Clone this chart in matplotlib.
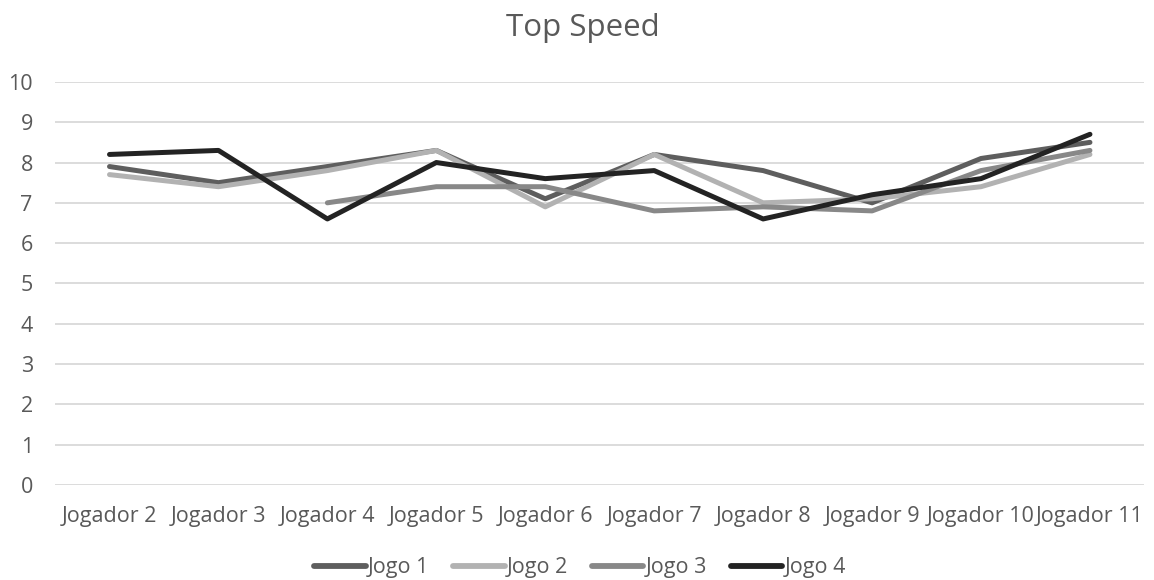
import numpy as np
import matplotlib.pyplot as plt

plt.rcParams['font.family'] = ['Open Sans', 'DejaVu Sans']

# jogadores no eixo x
jogadores = ['Jogador 2', 'Jogador 3', 'Jogador 4', 'Jogador 5', 'Jogador 6',
             'Jogador 7', 'Jogador 8', 'Jogador 9', 'Jogador 10', 'Jogador 11']

# velocidade maxima por jogo
jogo1 = [7.9, 7.5, 7.9, 8.3, 7.1, 8.2, 7.8, 7.0, 8.1, 8.5]
jogo2 = [7.7, 7.4, 7.8, 8.3, 6.9, 8.2, 7.0, 7.1, 7.4, 8.2]
jogo3 = [np.nan, np.nan, 7.0, 7.4, 7.4, 6.8, 6.9, 6.8, 7.8, 8.3]
jogo4 = [8.2, 8.3, 6.6, 8.0, 7.6, 7.8, 6.6, 7.2, 7.6, 8.7]

series = [('Jogo 1', jogo1, '#5e5e5e'),
          ('Jogo 2', jogo2, '#b2b2b2'),
          ('Jogo 3', jogo3, '#888888'),
          ('Jogo 4', jogo4, '#232323')]

fig = plt.figure(figsize=(11.54, 5.8), dpi=100)
ax = fig.add_axes([0.0477, 0.1638, 0.944, 0.695])

x = np.arange(len(jogadores))
for nome, vals, cor in series:
    ax.plot(x, vals, color=cor, linewidth=3.6, label=nome, solid_capstyle='round')

ax.set_xlim(-0.5, len(jogadores) - 0.5)
ax.set_ylim(0, 10)
ax.set_yticks(range(0, 11))
ax.set_xticks(x)
ax.set_xticklabels(jogadores)
ax.grid(axis='y', color='#d9d9d9', linewidth=1.3)
ax.set_axisbelow(True)
for s in ax.spines.values():
    s.set_visible(False)
ax.tick_params(axis='both', length=0, labelsize=15.5, colors='#595959')
ax.tick_params(axis='y', pad=16)
ax.tick_params(axis='x', pad=15)

fig.text(0.505, 0.952, 'Top Speed', ha='center', va='center', fontsize=22.5, color='#595959')

leg = fig.legend(loc='center', bbox_to_anchor=(0.5026, 1 - 568 / 580), ncol=4, frameon=False,
                 fontsize=15.5, labelcolor='#595959', handlelength=2.4, handletextpad=0.1,
                 columnspacing=1.1, borderpad=0)
for h in leg.legend_handles:
    h.set_linewidth(4.2)

fig.savefig('out.png', dpi=100)
